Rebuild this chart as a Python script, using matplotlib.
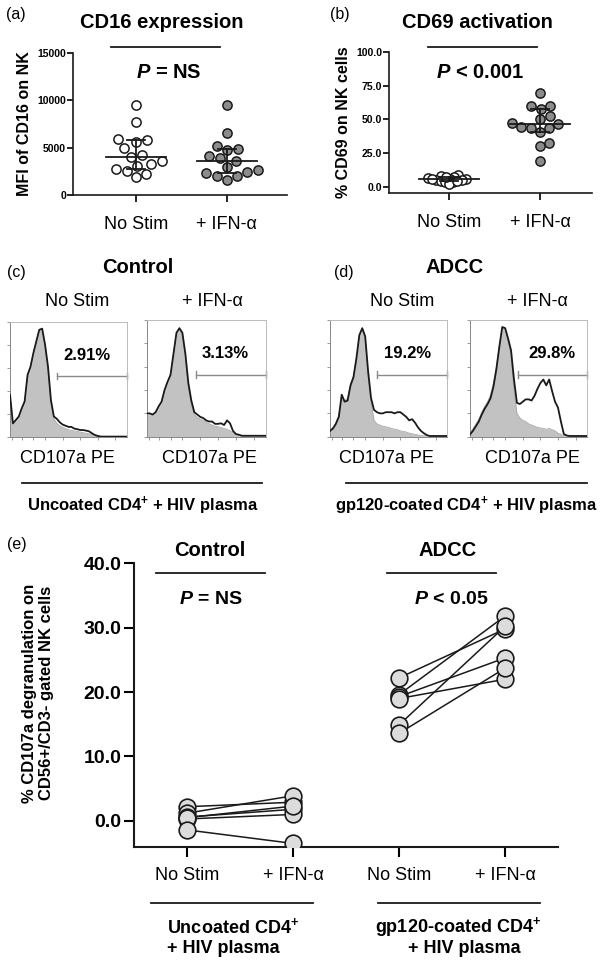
import numpy as np
import matplotlib
matplotlib.use("Agg")
import matplotlib.pyplot as plt
from matplotlib.lines import Line2D

plt.rcParams['font.family'] = ['Liberation Sans', 'DejaVu Sans']
plt.rcParams['mathtext.fontset'] = 'custom'
plt.rcParams['mathtext.rm'] = 'Liberation Sans:bold'
plt.rcParams['mathtext.it'] = 'Liberation Sans:italic:bold'
plt.rcParams['mathtext.bf'] = 'Liberation Sans:bold'

# ---- data ----
groups = ['No Stim', '+ IFN-α']

# (a) MFI of CD16 on NK
cd16_nostim = [9500, 7680, 5900, 5630, 5800, 5000, 4050, 4220, 3620, 3270, 3060, 2530, 2750, 2220, 1870]
cd16_ifn = [9500, 6580, 4750, 5170, 4860, 3870, 4120, 3590, 2990, 2460, 2000, 1580, 2040, 2360, 2640]

# (b) % CD69 on NK cells
cd69_nostim = [8.5, 7.8, 6.9, 6.4, 5.9, 5.5, 5.2, 4.8, 4.4, 3.9, 3.2, 2.2, 4.6, 5.8, 7.2]
cd69_ifn = [69.9, 60.0, 57.5, 60.2, 52.6, 50.1, 46.4, 43.9, 44.7, 47.2, 43.5, 40.5, 32.8, 29.9, 19.3]

# (c)/(d) CD107a PE histograms, heights as fraction of box, equal channel bins
hist_titles = ['2.91%', '3.13%', '19.2%', '29.8%']
ctrl_nostim_line = [0.37, 0.12, 0.15, 0.18, 0.25, 0.31, 0.54, 0.61, 0.73, 0.83, 0.93, 0.94, 0.80, 0.61,
                    0.32, 0.18, 0.16, 0.13, 0.11, 0.10, 0.09, 0.09, 0.075, 0.07, 0.063, 0.063, 0.058,
                    0.052, 0.035, 0.02, 0.012, 0.006, 0.006, 0.006, 0.006, 0.006, 0.006, 0.006, 0.006,
                    0.006, 0.006]
ctrl_nostim_fill = [0.20, 0.12, 0.14, 0.17, 0.24, 0.30, 0.50, 0.60, 0.72, 0.82, 0.92, 0.93, 0.78, 0.58,
                    0.30, 0.16, 0.12, 0.10, 0.085, 0.075, 0.065, 0.06, 0.055, 0.05, 0.045, 0.04, 0.035,
                    0.03, 0.025, 0.02, 0.015, 0.008, 0.008, 0.008, 0.008, 0.008, 0.008, 0.008, 0.008,
                    0.008, 0.008]
ctrl_ifn_line = [0.20, 0.20, 0.19, 0.21, 0.26, 0.30, 0.40, 0.47, 0.53, 0.71, 0.89, 0.93, 0.89, 0.71,
                 0.46, 0.31, 0.21, 0.19, 0.17, 0.16, 0.14, 0.13, 0.13, 0.11, 0.11, 0.115, 0.10, 0.14,
                 0.115, 0.05, 0.023, 0.017, 0.008, 0.008, 0.008, 0.008, 0.008, 0.008, 0.008, 0.008, 0.008]
ctrl_ifn_fill = [0.18, 0.19, 0.18, 0.20, 0.25, 0.29, 0.39, 0.46, 0.52, 0.70, 0.88, 0.92, 0.88, 0.69,
                 0.42, 0.27, 0.19, 0.165, 0.15, 0.14, 0.125, 0.11, 0.10, 0.09, 0.085, 0.08, 0.07, 0.065,
                 0.05, 0.035, 0.02, 0.008, 0.008, 0.008, 0.008, 0.008, 0.008, 0.008, 0.008, 0.008, 0.008]
adcc_nostim_line = [0.05, 0.07, 0.11, 0.17, 0.36, 0.30, 0.31, 0.44, 0.51, 0.67, 0.87, 0.93, 0.86, 0.56,
                    0.33, 0.23, 0.21, 0.20, 0.20, 0.21, 0.21, 0.21, 0.20, 0.21, 0.21, 0.19, 0.17, 0.14,
                    0.15, 0.12, 0.08, 0.05, 0.03, 0.014, 0.006, 0.006, 0.006, 0.006, 0.006, 0.006, 0.006]
adcc_nostim_fill = [0.05, 0.08, 0.12, 0.18, 0.33, 0.31, 0.33, 0.45, 0.52, 0.68, 0.86, 0.92, 0.84, 0.52,
                    0.30, 0.14, 0.11, 0.10, 0.09, 0.085, 0.08, 0.07, 0.065, 0.06, 0.05, 0.045, 0.04, 0.03,
                    0.025, 0.02, 0.015, 0.008, 0.008, 0.008, 0.008, 0.008, 0.008, 0.008, 0.008, 0.008, 0.008]
adcc_ifn_line = [0.02, 0.05, 0.09, 0.13, 0.19, 0.24, 0.28, 0.33, 0.43, 0.58, 0.77, 0.94, 0.93, 0.84,
                 0.74, 0.49, 0.29, 0.28, 0.30, 0.32, 0.32, 0.31, 0.35, 0.41, 0.46, 0.49, 0.44, 0.49,
                 0.39, 0.30, 0.25, 0.13, 0.023, 0.01, 0.006, 0.006, 0.006, 0.006, 0.006, 0.006, 0.006]
adcc_ifn_fill = [0.03, 0.07, 0.11, 0.15, 0.21, 0.26, 0.30, 0.36, 0.46, 0.60, 0.78, 0.93, 0.92, 0.82,
                 0.70, 0.40, 0.20, 0.16, 0.14, 0.13, 0.11, 0.10, 0.09, 0.08, 0.075, 0.07, 0.065, 0.07,
                 0.06, 0.05, 0.03, 0.02, 0.008, 0.008, 0.008, 0.008, 0.008, 0.008, 0.008, 0.008, 0.008]
gate_start = [0.405, 0.414, 0.40, 0.41]

# (e) paired CD107a degranulation
e_labels = ['No Stim', '+ IFN-α', 'No Stim', '+ IFN-α']
ctrl_nostim = [2.2, 1.2, 0.6, 0.3, 0.5, -1.4]
ctrl_ifn = [2.9, 3.9, 1.8, 1.0, 2.3, -3.5]
adcc_nostim = [22.2, 19.6, 19.3, 19.0, 14.9, 13.6]
adcc_ifn = [29.8, 31.8, 25.3, 22.0, 30.2, 23.7]

# ---- layout helpers (pixel coords, origin top-left) ----
W, H = 608, 966
fig = plt.figure(figsize=(W / 100, H / 100), dpi=100)


def add_ax(l, t, r, b):
    return fig.add_axes([l / W, 1 - b / H, (r - l) / W, (b - t) / H])


def ftext(x, y, s, **kw):
    kw.setdefault('ha', 'center')
    kw.setdefault('va', 'center')
    fig.text(x / W, 1 - y / H, s, **kw)


def fline(x1, x2, y, lw=1.3):
    fig.add_artist(Line2D([x1 / W, x2 / W], [1 - y / H, 1 - y / H], transform=fig.transFigure,
                          color='#1a1a1a', lw=lw))


def swarm(ax, center, values, diam):
    # simple beeswarm in pixel space
    trans = ax.transData
    px = trans.transform(np.column_stack([np.full(len(values), center), values]))
    ys = px[:, 1]
    offs = np.zeros(len(values))
    placed = []
    for i in np.argsort(ys):
        y = ys[i]
        cands = [0.0]
        for xo, yo in placed:
            dy = y - yo
            if abs(dy) < diam:
                dx = np.sqrt(diam ** 2 - dy ** 2)
                cands += [xo + dx, xo - dx]
        cands.sort(key=abs)
        for c in cands:
            if all((c - xo) ** 2 + (y - yo) ** 2 >= diam ** 2 - 1e-6 for xo, yo in placed):
                offs[i] = c
                break
        placed.append((offs[i], y))
    out = trans.inverted().transform(np.column_stack([px[:, 0] + offs, ys]))
    return out[:, 0]


def dot_panel(ax, sets, colors, diams):
    for k, vals in enumerate(sets):
        xs = swarm(ax, k, vals, diams[k])
        ax.scatter(xs, vals, s=44, facecolor=colors[k], edgecolor='#1a1a1a', lw=1.1, zorder=3)
        med = np.median(vals)
        q1, q3 = np.percentile(vals, [25, 75], method='weibull')
        ax.plot([k - 0.33, k + 0.33], [med, med], color='#1a1a1a', lw=1.3, zorder=4)
        ax.plot([k, k], [q1, q3], color='#1a1a1a', lw=1.3, zorder=4)
        ax.plot([k - 0.1, k + 0.1], [q1, q1], color='#1a1a1a', lw=1.3, zorder=4)
        ax.plot([k - 0.1, k + 0.1], [q3, q3], color='#1a1a1a', lw=1.3, zorder=4)


def style_dot_ax(ax):
    for s in ['top', 'right']:
        ax.spines[s].set_visible(False)
    for s in ['left', 'bottom']:
        ax.spines[s].set_linewidth(1.2)
        ax.spines[s].set_color('#1a1a1a')
    ax.set_xticks([0, 1])
    ax.set_xticklabels(groups, fontsize=13)
    ax.tick_params(axis='x', length=5, width=1.2, pad=10)
    ax.tick_params(axis='y', length=4, width=1.2, pad=1, labelsize=7.5)
    for lab in ax.get_yticklabels():
        lab.set_fontweight('bold')


# ---- (a) ----
ax_a = add_ax(73, 53, 287, 195)
ax_a.set_xlim(-0.69, 1.66)
ax_a.set_ylim(0, 15000)
ax_a.set_yticks([0, 5000, 10000, 15000])
style_dot_ax(ax_a)
ax_a.set_ylabel('MFI of CD16 on NK', fontsize=11.5, fontweight='bold', labelpad=4)
dot_panel(ax_a, [cd16_nostim, cd16_ifn], ['white', '#8c8c8c'], [11, 11])
ftext(16, 15, '(a)', fontsize=11.5)
ftext(162, 23, 'CD16 expression', fontsize=14.5, fontweight='bold')
fline(111, 220, 47)
ftext(169, 73, '$P$ = NS', fontsize=14.5, fontweight='bold')

# ---- (b) ----
ax_b = add_ax(389, 52, 592, 192.7)
ax_b.set_xlim(-0.66, 1.57)
ax_b.set_ylim(-4.4, 100)
ax_b.set_yticks([0, 25, 50, 75, 100])
ax_b.set_yticklabels(['%.1f' % v for v in [0, 25, 50, 75, 100]])
style_dot_ax(ax_b)
ax_b.set_ylabel('% CD69 on NK cells', fontsize=11.5, fontweight='bold', labelpad=4)
dot_panel(ax_b, [cd69_nostim, cd69_ifn], ['white', '#8c8c8c'], [4.5, 10])
ftext(340, 15, '(b)', fontsize=11.5)
ftext(477, 23, 'CD69 activation', fontsize=14.5, fontweight='bold')
fline(428, 537, 47)
ftext(480, 73, '$P$ < 0.001', fontsize=14.5, fontweight='bold')

# ---- (c) / (d) histograms ----
boxes = [(10, 321.7, 127, 437.3), (146.7, 320, 265.7, 436.7),
         (330, 320, 447.3, 436.7), (470, 320, 587.3, 436.7)]
lines = [ctrl_nostim_line, ctrl_ifn_line, adcc_nostim_line, adcc_ifn_line]
fills = [ctrl_nostim_fill, ctrl_ifn_fill, adcc_nostim_fill, adcc_ifn_fill]
label_x = [0.66, 0.66, 0.66, 0.70]
for k, box in enumerate(boxes):
    ax = add_ax(*box)
    ch = np.linspace(0, 1, len(lines[k]))
    ax.fill_between(ch, 0, fills[k], color='#c2c2c2', lw=0, zorder=1)
    ax.plot(ch, fills[k], color='#a8a8a8', lw=0.6, zorder=2)
    ax.plot(ch, lines[k], color='#1a1a1a', lw=1.3, zorder=3)
    ax.set_xlim(0, 1)
    ax.set_ylim(0, 1)
    for s in ax.spines.values():
        s.set_color('#bbbbbb')
        s.set_linewidth(0.7)
    ax.spines['left'].set_color('#888888')
    ax.spines['bottom'].set_color('#888888')
    ax.set_yticks([0, 0.2, 0.4, 0.6, 0.8, 1.0])
    ax.set_xticks([0.02, 0.1, 0.2, 0.3, 0.45, 0.6, 0.75, 0.9])
    ax.tick_params(length=2.2, width=0.6, color='#888888', labelleft=False, labelbottom=False)
    g0 = gate_start[k]
    ax.plot([g0, 1], [0.53, 0.53], color='#8a8a8a', lw=1.0, clip_on=False)
    ax.plot([g0, g0], [0.50, 0.56], color='#8a8a8a', lw=1.0, clip_on=False)
    ax.plot([1, 1], [0.50, 0.56], color='#8a8a8a', lw=1.0, clip_on=False)
    ax.text(label_x[k], 0.71, hist_titles[k], transform=ax.transAxes, ha='center', va='center',
            fontsize=12, fontweight='bold')

ftext(16, 273, '(c)', fontsize=11.5)
ftext(138, 268, 'Control', fontsize=14.5, fontweight='bold')
ftext(344, 273, '(d)', fontsize=11.5)
ftext(455, 268, 'ADCC', fontsize=14.5, fontweight='bold')
for x, s in zip([77.5, 212.5, 402.5, 537.5], groups * 2):
    ftext(x, 302, s, fontsize=13)
for x in [67.5, 209, 386.7, 532.5]:
    ftext(x, 459, 'CD107a PE', fontsize=13)
fline(21.7, 261.7, 482.7)
fline(346, 586.7, 482.7)
ftext(143, 506, 'Uncoated CD4$^{+}$ + HIV plasma', fontsize=12, fontweight='bold')
ftext(466.7, 506, 'gp120-coated CD4$^{+}$ + HIV plasma', fontsize=12, fontweight='bold')

# ---- (e) ----
ax_e = add_ax(134, 563.3, 558, 847.3)
ax_e.set_xlim(-0.5, 3.5)
ax_e.set_ylim(-4.1, 40)
for a_vals, b_vals, x0 in [(ctrl_nostim, ctrl_ifn, 0), (adcc_nostim, adcc_ifn, 2)]:
    for v1, v2 in zip(a_vals, b_vals):
        ax_e.plot([x0, x0 + 1], [v1, v2], color='#1a1a1a', lw=1.1, zorder=2)
    ax_e.plot(np.full(len(a_vals), x0), a_vals, 'o', ms=12, mfc='#dcdcdc', mec='#1a1a1a',
              mew=1.2, zorder=3)
    ax_e.plot(np.full(len(b_vals), x0 + 1), b_vals, 'o', ms=12, mfc='#dcdcdc', mec='#1a1a1a',
              mew=1.2, zorder=3)
for s in ['top', 'right']:
    ax_e.spines[s].set_visible(False)
for s in ['left', 'bottom']:
    ax_e.spines[s].set_linewidth(1.5)
    ax_e.spines[s].set_color('#1a1a1a')
ax_e.set_yticks([0, 10, 20, 30, 40])
ax_e.set_yticklabels(['%.1f' % v for v in [0, 10, 20, 30, 40]], fontsize=14, fontweight='bold')
ax_e.set_xticks(range(4))
ax_e.set_xticklabels(e_labels, fontsize=13)
ax_e.tick_params(axis='both', length=7, width=1.5)
ax_e.tick_params(axis='x', pad=7)
ax_e.tick_params(axis='y', pad=2)

ftext(17, 545, '(e)', fontsize=11.5)
ftext(38, 693, '% CD107a degranulation on\nCD56+/CD3- gated NK cells', rotation=90,
      fontsize=12, fontweight='bold', linespacing=1.1)
ftext(209.3, 550, 'Control', fontsize=14.5, fontweight='bold')
ftext(447.7, 550, 'ADCC', fontsize=14.5, fontweight='bold')
fline(156, 264.7, 572.7)
fline(386.8, 496, 572.7)
ftext(211, 599, '$P$ = NS', fontsize=14, fontweight='bold')
ftext(451.6, 599, '$P$ < 0.05', fontsize=14, fontweight='bold')
fline(151, 313, 903.3)
fline(378, 539.5, 903.3)
ftext(167, 926.7, 'Uncoated CD4$^{+}$', ha='left', fontsize=13, fontweight='bold')
ftext(167, 948.3, '+ HIV plasma', ha='left', fontsize=13, fontweight='bold')
ftext(458, 926.7, 'gp120-coated CD4$^{+}$', fontsize=13, fontweight='bold')
ftext(464, 948.3, '+ HIV plasma', fontsize=13, fontweight='bold')

fig.savefig('out.png', dpi=100)
